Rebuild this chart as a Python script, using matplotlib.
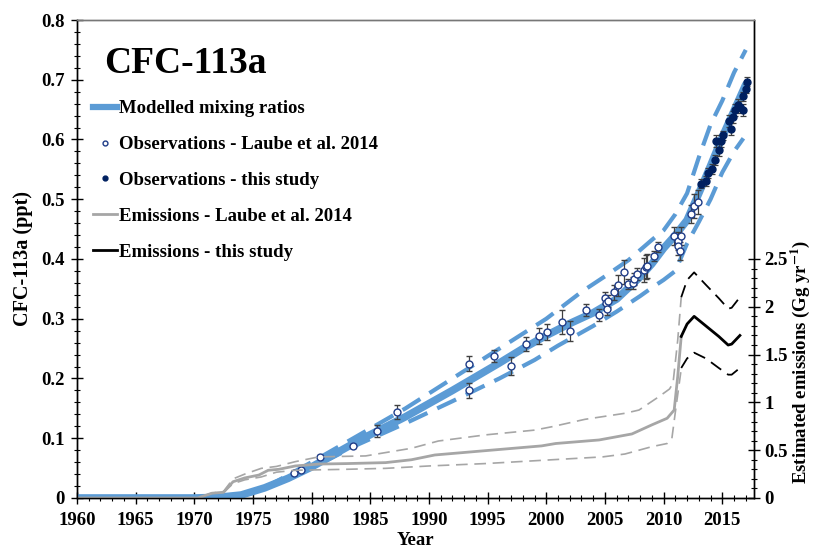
import matplotlib
matplotlib.use('Agg')
import matplotlib.pyplot as plt
from matplotlib.lines import Line2D
from matplotlib.ticker import FixedLocator, MultipleLocator

plt.rcParams['font.family'] = ['Liberation Serif', 'DejaVu Serif']
plt.rcParams['font.weight'] = 'bold'
plt.rcParams['mathtext.fontset'] = 'stix'

# modelled mixing ratio (ppt) with upper / lower bounds
model_year = [1960, 1970, 1972, 1974, 1976, 1978, 1980, 1982, 1984, 1986, 1988, 1990, 1992, 1994, 1996,
              1998, 2000, 2002, 2004, 2006, 2008, 2009, 2010, 2011, 2012, 2013, 2014, 2015, 2016, 2017]
model = [0, 0, 0.001, 0.005, 0.017, 0.033, 0.052, 0.074, 0.096, 0.116, 0.136, 0.158, 0.180, 0.203, 0.226,
         0.250, 0.272, 0.292, 0.310, 0.333, 0.370, 0.392, 0.418, 0.440, 0.465, 0.510, 0.556, 0.604, 0.648, 0.692]
upper_year = [1976, 1980, 1984, 1988, 1992, 1996, 2000, 2003, 2005, 2007, 2009, 2010, 2011, 2012, 2013,
              2014, 2015, 2016, 2017]
upper = [0.017, 0.06, 0.105, 0.15, 0.2, 0.25, 0.30, 0.345, 0.371, 0.398, 0.432, 0.448, 0.475, 0.51, 0.57,
         0.625, 0.665, 0.712, 0.75]
lower_year = [1976, 1980, 1984, 1988, 1992, 1996, 1999, 2001, 2004, 2006, 2008, 2009, 2010, 2011, 2012,
              2013, 2014, 2015, 2016, 2016.8]
lower = [0.017, 0.05, 0.09, 0.125, 0.162, 0.2, 0.231, 0.255, 0.288, 0.312, 0.338, 0.352, 0.365, 0.38,
         0.426, 0.462, 0.5, 0.545, 0.58, 0.602]

# observations (ppt)
laube_obs_year = [1978.5, 1979.1, 1980.7, 1983.5, 1985.6, 1987.3, 1993.4, 1993.4, 1995.5, 1997.0, 1998.3,
                  1999.4, 2000.1, 2001.3, 2002.0, 2003.4, 2004.5, 2005.0, 2005.1, 2005.3, 2005.2, 2005.8,
                  2006.1, 2006.6, 2007.0, 2007.4, 2007.5, 2007.7, 2008.3, 2008.5, 2008.6, 2009.2, 2009.5,
                  2010.9, 2011.2, 2011.5, 2011.2, 2011.4, 2012.3, 2012.6, 2012.9]
laube_obs = [0.041, 0.047, 0.069, 0.087, 0.112, 0.144, 0.225, 0.180, 0.237, 0.221, 0.258, 0.271, 0.278,
             0.295, 0.280, 0.314, 0.307, 0.334, 0.326, 0.330, 0.316, 0.344, 0.356, 0.378, 0.358, 0.360,
             0.367, 0.375, 0.381, 0.386, 0.389, 0.405, 0.420, 0.439, 0.430, 0.438, 0.422, 0.414, 0.476,
             0.488, 0.495]
laube_err = [0.002, 0.002, 0.003, 0.003, 0.01, 0.012, 0.012, 0.012, 0.01, 0.015, 0.012, 0.014, 0.013,
             0.02, 0.017, 0.01, 0.01, 0.01, 0.01, 0.01, 0.01, 0.012, 0.018, 0.02, 0.008, 0.01, 0.01, 0.01,
             0.02, 0.02, 0.02, 0.008, 0.008, 0.015, 0.015, 0.015, 0.015, 0.015, 0.015, 0.02, 0.02]
study_obs_year = [2013.2, 2013.6, 2013.8, 2014.1, 2014.4, 2014.7, 2014.5, 2014.9, 2015.1, 2015.7, 2015.6,
                  2015.9, 2016.1, 2016.3, 2016.5, 2016.8, 2016.8, 2017.0, 2017.1]
study_obs = [0.526, 0.531, 0.544, 0.551, 0.566, 0.583, 0.597, 0.598, 0.607, 0.617, 0.631, 0.637, 0.650,
             0.657, 0.655, 0.649, 0.672, 0.685, 0.697]
study_err = [0.008, 0.008, 0.008, 0.008, 0.008, 0.01, 0.01, 0.01, 0.008, 0.01, 0.01, 0.01, 0.01, 0.01,
             0.01, 0.01, 0.008, 0.008, 0.008]

# emissions (Gg/yr)
laube_em_year = [1960, 1970.3, 1971.5, 1972.5, 1973.3, 1974.3, 1975.5, 1976.3, 1977.2, 1978.6, 1980.6,
                 1983, 1986.3, 1988.5, 1990.5, 1994.8, 1999.6, 2000.8, 2004.5, 2007.3, 2009.0, 2010.3,
                 2010.9, 2011.2, 2011.5]
laube_em = [0, 0, 0.05, 0.06, 0.17, 0.21, 0.24, 0.29, 0.30, 0.335, 0.355, 0.36, 0.37, 0.40, 0.45, 0.495,
            0.545, 0.57, 0.607, 0.67, 0.765, 0.834, 0.92, 1.27, 1.69]
laube_hi_year = [1960, 1970.3, 1971.5, 1972.5, 1973.3, 1974.3, 1975.7, 1977, 1978.6, 1980.6, 1984.6,
                 1986.3, 1988.5, 1990.8, 1994.8, 1999, 2000.5, 2003.3, 2006.7, 2007.9, 2009.6, 2010.5,
                 2010.8, 2011.2, 2011.5]
laube_hi = [0, 0, 0.05, 0.07, 0.2, 0.25, 0.31, 0.33, 0.38, 0.43, 0.44, 0.475, 0.52, 0.596, 0.66, 0.71,
            0.746, 0.823, 0.886, 0.92, 1.06, 1.14, 1.2, 1.65, 2.1]
laube_lo_year = [1960, 1970.3, 1971.5, 1972.5, 1973.3, 1974.3, 1975.7, 1977, 1978.6, 1982.9, 1986.3,
                 1990, 1994.8, 2000.5, 2004.8, 2006.7, 2009, 2010.3, 2010.7, 2011.0, 2011.5]
laube_lo = [0, 0, 0.05, 0.06, 0.15, 0.19, 0.22, 0.27, 0.29, 0.30, 0.31, 0.335, 0.36, 0.40, 0.43, 0.46,
            0.537, 0.57, 0.62, 0.9, 1.35]
study_em_year = [2011.5, 2012.0, 2012.6, 2013.6, 2014.7, 2015.5, 2015.8, 2016.5]
study_em = [1.69, 1.82, 1.90, 1.80, 1.69, 1.60, 1.61, 1.70]
study_hi = [2.10, 2.28, 2.36, 2.23, 2.09, 1.98, 1.99, 2.10]
study_lo = [1.36, 1.46, 1.52, 1.46, 1.36, 1.29, 1.29, 1.36]

blue = '#5B9BD5'
navy = '#002060'
gray = '#A6A6A6'

fig = plt.figure(figsize=(8.19, 5.51), dpi=100)
ax = fig.add_axes([0.094, 0.0962, 0.8266, 0.8675])
ax2 = ax.twinx()

ax.plot(upper_year, upper, color=blue, lw=3, dashes=(5, 2.6), zorder=2)
ax.plot(lower_year, lower, color=blue, lw=3, dashes=(5, 2.6), zorder=2)
ax.plot(model_year, model, color=blue, lw=5.5, solid_capstyle='round', zorder=3)
ax.errorbar(laube_obs_year, laube_obs, yerr=laube_err, fmt='o', ms=5, mfc='white', mec='#1F3C88',
            mew=1, ecolor='#404040', elinewidth=0.9, capsize=2.2, capthick=0.9, zorder=4)
ax.errorbar(study_obs_year, study_obs, yerr=study_err, fmt='o', ms=5, mfc=navy, mec=navy,
            ecolor='#404040', elinewidth=0.9, capsize=2.2, capthick=0.9, zorder=5)

ax2.plot(laube_hi_year, laube_hi, color=gray, lw=1.2, dashes=(7, 4))
ax2.plot(laube_lo_year, laube_lo, color=gray, lw=1.2, dashes=(7, 4))
ax2.plot(laube_em_year, laube_em, color=gray, lw=2)
ax2.plot(study_em_year, study_hi, color='black', lw=1.3, dashes=(7, 4))
ax2.plot(study_em_year, study_lo, color='black', lw=1.3, dashes=(7, 4))
ax2.plot(study_em_year, study_em, color='black', lw=2)

ax.set_xlim(1960, 2017.7)
ax.set_ylim(0, 0.8)
ax2.set_ylim(0, 5)

ax.set_xticks(range(1960, 2020, 5))
ax.xaxis.set_minor_locator(MultipleLocator(1))
ax.set_yticks([i / 10 for i in range(9)])
ax.set_yticklabels(['0', '0.1', '0.2', '0.3', '0.4', '0.5', '0.6', '0.7', '0.8'])
ax.yaxis.set_minor_locator(MultipleLocator(0.02))
ax2.set_yticks([0, 0.5, 1, 1.5, 2, 2.5])
ax2.set_yticklabels(['0', '0.5', '1', '1.5', '2', '2.5'])
ax2.yaxis.set_minor_locator(FixedLocator([i / 10 for i in range(26)]))

for a in (ax, ax2):
    a.tick_params(which='major', direction='inout', length=8, width=1, labelsize=13.5)
    a.tick_params(which='minor', direction='inout', length=5, width=0.8)
    for s in a.spines.values():
        s.set_linewidth(1)
ax.tick_params(axis='x', pad=6)
ax.tick_params(axis='y', pad=5)
ax.spines['top'].set_color('#777777')
ax2.spines['top'].set_color('#777777')

ax.set_xlabel('Year', fontsize=13.5, fontweight='bold', labelpad=2)
ax.set_ylabel('CFC-113a (ppt)', fontsize=14.5, fontweight='bold', labelpad=6)
fig.text(0.977, 0.343, 'Estimated emissions (Gg yr$^{\\mathbf{-1}}$)', rotation=90, fontsize=13.5,
         fontweight='bold', ha='center', va='center')

ax.text(0.04, 0.91, 'CFC-113a', transform=ax.transAxes, fontsize=27, fontweight='bold', va='center')

handles = [Line2D([], [], color=blue, lw=4.5),
           Line2D([], [], ls='', marker='o', ms=3.5, mfc='white', mec='#1F3C88', mew=1),
           Line2D([], [], ls='', marker='o', ms=3.5, mfc=navy, mec=navy),
           Line2D([], [], color=gray, lw=2),
           Line2D([], [], color='black', lw=2)]
labels = ['Modelled mixing ratios', 'Observations - Laube et al. 2014', 'Observations - this study',
          'Emissions - Laube et al. 2014', 'Emissions - this study']
ax.legend(handles, labels, loc='upper left', bbox_to_anchor=(0.012, 0.848), frameon=False,
          prop={'size': 13.5, 'weight': 'bold'}, handlelength=1.3, handletextpad=0.1,
          labelspacing=1.0, borderaxespad=0)

fig.savefig('out.png', dpi=100)
